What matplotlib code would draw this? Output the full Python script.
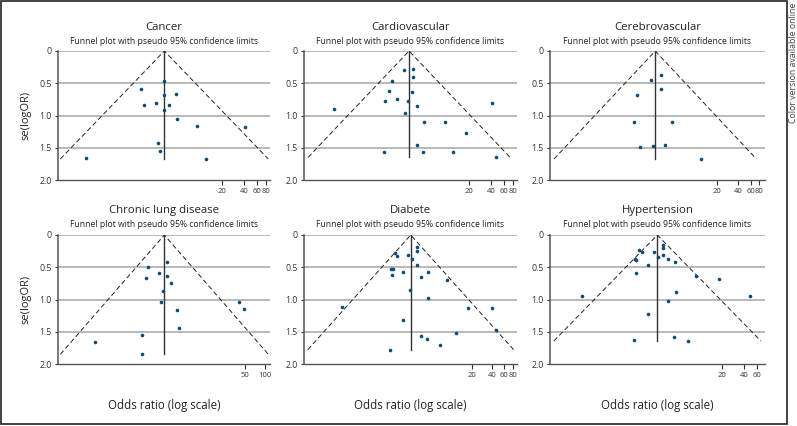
import matplotlib
matplotlib.use("Agg")
import matplotlib.pyplot as plt
import numpy as np

plt.rcParams['font.family'] = ['Open Sans', 'DejaVu Sans']

# ---- data (odds ratio, standard error of log OR) ----
titles = ["Cancer", "Cardiovascular", "Cerebrovascular",
          "Chronic lung disease", "Diabete", "Hypertension"]

cancer_or = [0.272, 1.57, 1.69, 2.47, 3.24, 3.24, 3.24, 3.80, 4.69, 4.84,
             9.18, 41.3, 2.63, 2.83, 12.2]
cancer_se = [1.659, 0.594, 0.842, 0.806, 0.465, 0.687, 0.915, 0.842, 0.667,
             1.049, 1.163, 1.183, 1.431, 1.550, 1.674]

cardio_or = [0.262, 1.35, 1.31, 1.55, 1.67, 2.00, 2.45, 2.58, 2.79, 3.27,
             3.27, 3.24, 3.80, 4.70, 3.78, 4.60, 9.1, 12.0, 18.2, 40.9, 47.4]
cardio_se = [0.894, 0.780, 1.566, 0.615, 0.465, 0.744, 0.295, 0.961, 0.775,
             0.284, 0.403, 0.640, 0.853, 1.096, 1.462, 1.571, 1.096, 1.561,
             1.266, 0.811, 1.648]

cerebro_or = [1.52, 1.38, 1.66, 2.40, 2.56, 3.25, 3.25, 3.70, 4.65, 12.0]
cerebro_se = [0.682, 1.096, 1.488, 0.450, 1.478, 0.367, 0.584, 1.462, 1.096,
              1.674]

lung_or = [0.264, 1.35, 1.34, 1.55, 1.68, 2.46, 2.61, 2.80, 3.26, 3.23, 3.78,
           4.67, 4.94, 40.5, 47.8]
lung_se = [1.664, 1.550, 1.850, 0.661, 0.496, 0.584, 1.034, 0.873, 0.419,
           0.636, 0.739, 1.168, 1.447, 1.044, 1.142]

diab_or = [0.25, 1.26, 1.30, 1.38, 1.34, 1.47, 1.61, 1.95, 1.96, 2.34, 2.48,
           2.68, 3.10, 3.13, 3.10, 3.63, 3.65, 4.36, 4.55, 4.63, 6.77, 8.75,
           11.6, 17.6, 39.4, 46.0]
diab_se = [1.121, 1.778, 0.522, 0.522, 0.625, 0.274, 0.320, 0.568, 1.313,
           0.305, 0.858, 0.377, 0.191, 0.248, 0.465, 0.656, 1.566, 1.618,
           0.579, 0.977, 1.705, 0.692, 1.519, 1.137, 1.137, 1.478]

hyper_or = [0.261, 1.32, 1.33, 1.40, 1.40, 1.54, 1.67, 2.02, 2.05, 2.43, 2.76,
            3.25, 3.25, 3.27, 3.72, 3.79, 4.57, 4.62, 4.82, 7.0, 9.07, 18.4,
            47.8]
hyper_se = [0.941, 1.623, 0.367, 0.388, 0.594, 0.238, 0.264, 0.465, 1.220,
            0.264, 0.336, 0.150, 0.202, 0.315, 0.377, 1.028, 1.587, 0.419,
            0.889, 1.643, 0.630, 0.677, 0.946]

pooled = [3.24, 2.91, 2.73, 2.96, 2.54, 2.70]
xticks = [[20, 40, 60, 80], [20, 40, 60, 80], [20, 40, 60, 80],
          [50, 100], [20, 40, 60, 80], [20, 40, 60]]
xlims = [(0.113, 91), (0.101, 92), (0.090, 96),
         (0.0726, 118), (0.0684, 93), (0.0957, 77)]
yticks = [0, 0.5, 1.0, 1.5, 2.0]
ytick_labels = ["0", "0.5", "1.0", "1.5", "2.0"]

ors = [cancer_or, cardio_or, cerebro_or, lung_or, diab_or, hyper_or]
ses = [cancer_se, cardio_se, cerebro_se, lung_se, diab_se, hyper_se]

W, H = 797, 426
fig = plt.figure(figsize=(W / 100, H / 100), dpi=100)
fig.patch.set_facecolor('white')

cols = [(58, 270), (304, 517), (550, 765)]
rows = [(51, 180), (235, 364)]

dot = '#0f4c75'
grid_c = '#a6a6a6'
spine_c = '#555555'

for k in range(6):
    r, c = divmod(k, 3)
    x0, x1 = cols[c]
    y0, y1 = rows[r]
    ax = fig.add_axes([x0 / W, 1 - y1 / H, (x1 - x0) / W, (y1 - y0) / H])
    ax.set_xscale('log')

    o = np.array(ors[k])
    s = np.array(ses[k])
    p = pooled[k]
    smax = s.max()

    for g in [0, 0.5, 1.0, 1.5]:
        ax.axhline(g, color=grid_c, lw=1.1, zorder=1)

    ax.plot([p * np.exp(-1.96 * smax), p, p * np.exp(1.96 * smax)],
            [smax, 0, smax], color='#222222', lw=0.7, ls=(0, (5, 3)), zorder=2)
    ax.plot([p, p], [0, smax], color='#333333', lw=1.0, zorder=2)
    ax.plot(o, s, 'o', color=dot, ms=2.6, mec='none', zorder=3)

    ax.set_xlim(*xlims[k])
    ax.set_ylim(2.0, 0)
    ax.set_yticks(yticks)
    ax.set_yticklabels(ytick_labels)
    ax.set_xticks(xticks[k])
    ax.set_xticklabels([str(t) for t in xticks[k]])
    ax.xaxis.set_minor_locator(matplotlib.ticker.NullLocator())

    for side in ['top', 'right']:
        ax.spines[side].set_visible(False)
    ax.spines['left'].set_color(spine_c)
    ax.spines['left'].set_linewidth(1.1)
    ax.spines['bottom'].set_color(spine_c)
    ax.spines['bottom'].set_linewidth(1.0)
    ax.tick_params(axis='both', labelsize=6.3, colors='#333333',
                   length=3.5, width=0.8, pad=2)
    ax.tick_params(axis='x', labelsize=5.5, pad=2.5)
    ax.tick_params(axis='y', length=2.5)
    ax.patch.set_alpha(0)

    cx = (x0 + x1) / 2 / W
    fig.text(cx, 1 - (y0 - 24) / H, titles[k], ha='center', va='center',
             fontsize=8.2, color='#222222')
    fig.text(cx, 1 - (y0 - 10) / H,
             "Funnel plot with pseudo 95% confidence limits",
             ha='center', va='center', fontsize=6.2, color='#222222')

    if c == 0:
        ax.set_ylabel("se(logOR)", fontsize=8, color='#222222', labelpad=6)
    if r == 1:
        fig.text(cx, 1 - 405 / H, "Odds ratio (log scale)", ha='center',
                 va='center', fontsize=8.3, color='#222222')

# outer frame and side note
fig.add_artist(matplotlib.patches.Rectangle((1 / W, 1 - 424 / H), 786 / W,
                                            423 / H, transform=fig.transFigure,
                                            fill=False, ec='#222222', lw=1.2))
fig.text(794 / W, 1 - 3 / H, "Color version available online", rotation=90,
         ha='center', va='top', fontsize=6.3, color='#444444')

fig.savefig("out.png", dpi=100, facecolor='white')
